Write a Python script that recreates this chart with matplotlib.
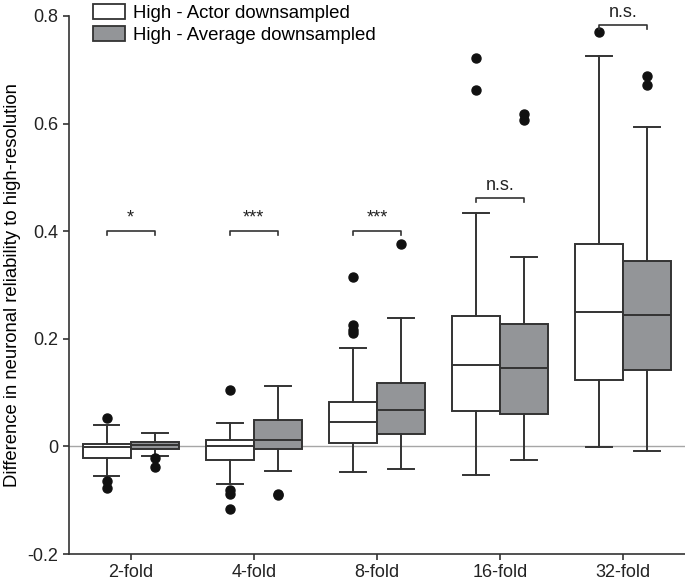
import matplotlib
matplotlib.use("Agg")
import matplotlib.pyplot as plt
from matplotlib.patches import Patch
import numpy as np

plt.rcParams['font.family'] = ['Liberation Sans', 'DejaVu Sans']
plt.rcParams['font.size'] = 13

folds = ["2-fold", "4-fold", "8-fold", "16-fold", "32-fold"]

# per group: whisker low, q1, median, q3, whisker high
actor_whislo = [-0.055, -0.069, -0.047, -0.054, -0.002]
actor_q1 = [-0.022, -0.025, 0.007, 0.066, 0.124]
actor_med = [-0.002, 0.001, 0.046, 0.151, 0.250]
actor_q3 = [0.005, 0.012, 0.082, 0.242, 0.377]
actor_whishi = [0.040, 0.043, 0.182, 0.434, 0.726]
actor_fliers = [
    [0.052, -0.064, -0.077],
    [0.104, -0.081, -0.089, -0.117],
    [0.315, 0.225, 0.217, 0.210],
    [0.721, 0.663],
    [0.770],
]

avg_whislo = [-0.017, -0.045, -0.042, -0.025, -0.008]
avg_q1 = [-0.004, -0.004, 0.024, 0.060, 0.142]
avg_med = [0.002, 0.012, 0.068, 0.146, 0.244]
avg_q3 = [0.009, 0.050, 0.118, 0.228, 0.345]
avg_whishi = [0.025, 0.112, 0.239, 0.352, 0.593]
avg_fliers = [
    [-0.021, -0.038],
    [-0.088, -0.091],
    [0.377],
    [0.617, 0.607],
    [0.689, 0.672],
]

sig_labels = ["*", "***", "***", "n.s.", "n.s."]
sig_heights = [0.40, 0.40, 0.40, 0.462, 0.783]


def make_stats(lo, q1, med, q3, hi, fl):
    return [dict(whislo=lo[i], q1=q1[i], med=med[i], q3=q3[i], whishi=hi[i],
                 fliers=np.array(fl[i])) for i in range(len(lo))]


fig = plt.figure(figsize=(6.85, 5.83), dpi=100)
ax = fig.add_axes([0.1007, 0.0497, 0.8993, 0.9229])

xs = np.arange(len(folds))
off = 0.195
w = 0.39
edge = '#333333'

ax.axhline(0, color='#a6a6a6', lw=1.0, zorder=0)

for stats, pos, fc in [
    (make_stats(actor_whislo, actor_q1, actor_med, actor_q3, actor_whishi, actor_fliers), xs - off, 'white'),
    (make_stats(avg_whislo, avg_q1, avg_med, avg_q3, avg_whishi, avg_fliers), xs + off, '#939598'),
]:
    ax.bxp(stats, positions=pos, widths=w, capwidths=0.21, patch_artist=True,
           boxprops=dict(facecolor=fc, edgecolor=edge, lw=1.4),
           medianprops=dict(color=edge, lw=1.4),
           whiskerprops=dict(color=edge, lw=1.4),
           capprops=dict(color=edge, lw=1.4),
           flierprops=dict(marker='o', markerfacecolor='#111111', markeredgecolor='#111111',
                           markersize=6.5, linestyle='none'),
           manage_ticks=False)

# significance brackets
for x, lab, h in zip(xs, sig_labels, sig_heights):
    ax.plot([x - off, x - off, x + off, x + off], [h - 0.007, h, h, h - 0.007],
            color=edge, lw=1.2, clip_on=False)
    ax.text(x, h + 0.008, lab, ha='center', va='bottom', fontsize=13, color='#222222')

ax.set_xlim(-0.5, 4.5)
ax.set_ylim(-0.2, 0.8)
ax.set_xticks(xs)
ax.set_xticklabels(folds)
ax.set_yticks([-0.2, 0, 0.2, 0.4, 0.6, 0.8])
ax.set_yticklabels(["-0.2", "0", "0.2", "0.4", "0.6", "0.8"])
ax.set_ylabel("Difference in neuronal reliability to high-resolution", fontsize=13.3, labelpad=5)
ax.spines['top'].set_visible(False)
ax.spines['right'].set_visible(False)
for s in ['left', 'bottom']:
    ax.spines[s].set_color(edge)
    ax.spines[s].set_linewidth(1.2)
ax.tick_params(direction='out', length=4, width=1.2, color=edge, labelcolor='#222222')

handles = [Patch(facecolor='white', edgecolor=edge, lw=1.3, label='High - Actor downsampled'),
           Patch(facecolor='#939598', edgecolor=edge, lw=1.3, label='High - Average downsampled')]
fig.legend(handles=handles, loc='upper left', bbox_to_anchor=(0.111, 1.022), frameon=False,
           handlelength=1.75, handleheight=0.85, handletextpad=0.4, labelspacing=0.25,
           fontsize=13.4)

fig.savefig("out.png", dpi=100)
